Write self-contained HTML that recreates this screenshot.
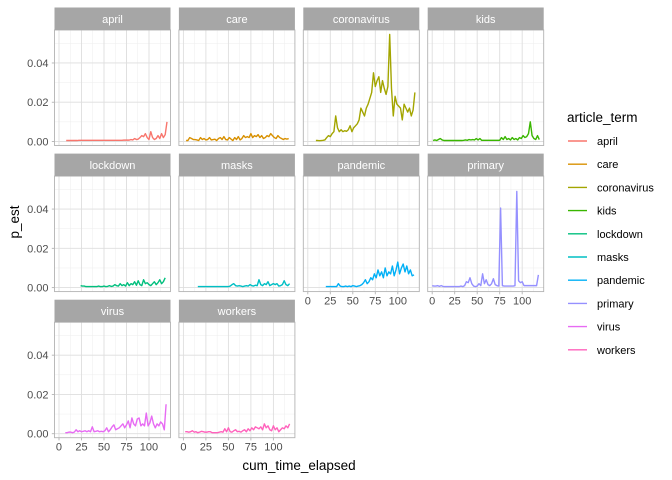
<!DOCTYPE html>
<html><head><meta charset="utf-8"><style>
html,body{margin:0;padding:0;background:#fff;}
svg{display:block;font-family:"Liberation Sans",Arial,sans-serif;}
</style></head><body>
<svg id="chart" width="672" height="480" viewBox="0 0 672 480" xmlns="http://www.w3.org/2000/svg"></svg>
<script>
const terms = ["april","care","coronavirus","kids","lockdown","masks","pandemic","primary","virus","workers"];
const colors = ["#F8766D","#D89000","#A3A500","#39B600","#00BF7D","#00BFC4","#00B0F6","#9590FF","#E76BF3","#FF62BC"];
const xTicks = [0,25,50,75,100];
const yTicks = [0,0.02,0.04];
const yTickLabels = ["0.00","0.02","0.04"];
const xStart = [8,3,9,1,24,16,20,0,7,2];
const xStep = 2;
const april = [0.0005,0.0005,0.0005,0.0005,0.0005,0.0005,0.0005,0.0006,0.0006,0.0006,0.0006,0.0006,0.0006,0.0006,0.0006,0.0006,0.0006,0.0006,0.0006,0.0006,0.0006,0.0006,0.0006,0.0006,0.0006,0.0006,0.0006,0.0006,0.0006,0.0006,0.0006,0.0006,0.0007,0.0007,0.0007,0.0007,0.001,0.0008,0.0015,0.001,0.0012,0.002,0.003,0.0025,0.004,0.002,0.001,0.005,0.002,0.001,0.0015,0.003,0.0015,0.004,0.002,0.0035,0.010];
const care = [0.0005,0.0005,0.002,0.0015,0.001,0.001,0.0008,0.0005,0.002,0.001,0.0015,0.0008,0.001,0.002,0.0008,0.001,0.0012,0.0005,0.0015,0.002,0.001,0.0025,0.001,0.0008,0.002,0.0012,0.0005,0.002,0.001,0.0025,0.0008,0.0015,0.003,0.002,0.0025,0.002,0.004,0.002,0.003,0.0025,0.0035,0.002,0.003,0.0015,0.002,0.003,0.0025,0.004,0.003,0.002,0.0015,0.003,0.002,0.0015,0.001,0.0015,0.0012,0.0015];
const coronavirus = [0.0005,0.0005,0.0004,0.0005,0.0006,0.0008,0.002,0.003,0.0025,0.004,0.005,0.013,0.007,0.005,0.006,0.005,0.0055,0.0052,0.006,0.008,0.005,0.007,0.008,0.009,0.011,0.017,0.015,0.013,0.017,0.019,0.022,0.025,0.035,0.028,0.031,0.033,0.025,0.031,0.027,0.024,0.028,0.0545,0.027,0.013,0.023,0.019,0.018,0.017,0.011,0.019,0.017,0.015,0.017,0.013,0.016,0.025];
const kids = [0.0005,0.0008,0.0005,0.001,0.0015,0.0008,0.0005,0.0005,0.0005,0.0005,0.0005,0.0005,0.0005,0.0005,0.0005,0.0005,0.0005,0.0006,0.0008,0.0006,0.001,0.0008,0.001,0.0008,0.0015,0.0008,0.0015,0.0006,0.0006,0.0006,0.0006,0.0006,0.0006,0.0006,0.0006,0.0006,0.0006,0.0006,0.002,0.001,0.0025,0.001,0.0015,0.0008,0.002,0.001,0.0015,0.0008,0.002,0.0015,0.003,0.002,0.0025,0.004,0.010,0.003,0.0015,0.001,0.003,0.001];
const lockdown = [0.001,0.0008,0.0008,0.0005,0.0005,0.0005,0.0005,0.0005,0.0005,0.0005,0.0008,0.0005,0.0005,0.0008,0.0005,0.0006,0.001,0.0006,0.0008,0.0015,0.001,0.0008,0.002,0.001,0.0015,0.0008,0.0025,0.001,0.002,0.0015,0.003,0.0012,0.0035,0.0015,0.001,0.004,0.002,0.0025,0.0015,0.001,0.002,0.003,0.0015,0.0025,0.004,0.002,0.003,0.005];
const masks = [0.0005,0.0005,0.0005,0.0005,0.0005,0.0005,0.0005,0.0005,0.0005,0.0005,0.0005,0.0005,0.0005,0.0005,0.0005,0.0005,0.0005,0.0005,0.0008,0.0015,0.002,0.001,0.0008,0.001,0.0008,0.0005,0.0008,0.001,0.0008,0.0015,0.001,0.0008,0.0012,0.001,0.004,0.0015,0.001,0.002,0.0015,0.003,0.001,0.0015,0.002,0.0015,0.002,0.0008,0.001,0.0015,0.0035,0.0015,0.001,0.002];
const pandemic = [0.0005,0.0005,0.0005,0.0005,0.0005,0.0005,0.0005,0.002,0.0008,0.0005,0.0005,0.0008,0.0005,0.0008,0.0005,0.001,0.0008,0.0005,0.0008,0.001,0.0015,0.0025,0.004,0.002,0.003,0.005,0.004,0.007,0.005,0.009,0.006,0.008,0.005,0.01,0.006,0.008,0.007,0.011,0.006,0.009,0.013,0.007,0.01,0.012,0.008,0.011,0.007,0.009,0.006,0.0065];
const primary = [0.001,0.0008,0.0008,0.001,0.0006,0.001,0.0006,0.0005,0.0005,0.0005,0.0005,0.0005,0.0005,0.0005,0.0005,0.0005,0.0008,0.0005,0.001,0.003,0.0025,0.005,0.002,0.0008,0.0005,0.0008,0.002,0.001,0.007,0.002,0.004,0.0015,0.001,0.002,0.0045,0.0015,0.001,0.0008,0.0405,0.001,0.0008,0.0008,0.0008,0.0008,0.0008,0.0008,0.001,0.049,0.0035,0.0025,0.003,0.001,0.001,0.001,0.001,0.001,0.001,0.001,0.001,0.0065];
const virus = [0.0005,0.0005,0.0008,0.0008,0.0005,0.0008,0.002,0.001,0.0015,0.001,0.0012,0.0015,0.001,0.0015,0.001,0.0035,0.001,0.0012,0.0015,0.001,0.0012,0.001,0.0015,0.003,0.001,0.002,0.0035,0.0045,0.002,0.0025,0.003,0.004,0.005,0.003,0.0045,0.0065,0.003,0.008,0.005,0.004,0.0075,0.008,0.004,0.005,0.004,0.0105,0.004,0.0055,0.009,0.005,0.003,0.005,0.004,0.006,0.005,0.002,0.015];
const workers = [0.001,0.001,0.0008,0.001,0.0015,0.0008,0.001,0.0005,0.0008,0.0012,0.001,0.0008,0.0008,0.001,0.001,0.0005,0.0005,0.0005,0.0005,0.0008,0.001,0.0008,0.0025,0.001,0.003,0.001,0.0008,0.0015,0.002,0.001,0.0012,0.0008,0.0015,0.002,0.001,0.0025,0.0015,0.003,0.002,0.0035,0.003,0.0025,0.0035,0.002,0.005,0.003,0.004,0.002,0.0015,0.004,0.002,0.003,0.001,0.002,0.003,0.0025,0.004,0.003,0.005];
const seriesVals = [april,care,coronavirus,kids,lockdown,masks,pandemic,primary,virus,workers];

const NS = "http://www.w3.org/2000/svg";
const svg = document.getElementById("chart");
function mk(tag, attrs, parent){ const e=document.createElementNS(NS,tag); for(const k in attrs) e.setAttribute(k,attrs[k]); (parent||svg).appendChild(e); return e; }

const panelW = 116, panelH = 115.5, colPitch = 124.4, rowPitch = 146.1;
const left0 = 54.5, stripTop0 = 7.5, stripH = 22.5;
const xMin = -5, xMax = 123.9, yMin = -0.00204, yMax = 0.0568;
function px(c, v){ return left0 + c*colPitch + (v - xMin)/(xMax - xMin)*panelW; }
function py(r, v){ const top = stripTop0 + r*rowPitch + stripH; return top + (yMax - v)/(yMax - yMin)*panelH; }

terms.forEach((term, i) => {
  const c = i % 4, r = Math.floor(i/4);
  const L = left0 + c*colPitch, T = stripTop0 + r*rowPitch + stripH;
  const g = mk("g", {});
  
  
  mk("rect", {x:L, y:T, width:panelW, height:panelH, fill:"#fff"}, g);
  [12.5,37.5,62.5,87.5,112.5].forEach(v => mk("line",{x1:px(c,v),x2:px(c,v),y1:T,y2:T+panelH,stroke:"#EDEDED","stroke-width":0.5},g));
  [0.01,0.03,0.05].forEach(v => mk("line",{x1:L,x2:L+panelW,y1:py(r,v),y2:py(r,v),stroke:"#EDEDED","stroke-width":0.5},g));
  xTicks.forEach(v => mk("line",{x1:px(c,v),x2:px(c,v),y1:T,y2:T+panelH,stroke:"#DEDEDE","stroke-width":0.9},g));
  yTicks.forEach(v => mk("line",{x1:L,x2:L+panelW,y1:py(r,v),y2:py(r,v),stroke:"#DEDEDE","stroke-width":0.9},g));
  const vals = seriesVals[i];
  const pts = vals.map((v,k) => px(c, xStart[i] + k*xStep).toFixed(2) + "," + py(r, v).toFixed(2)).join(" ");
  const line = mk("polyline", {points:pts, fill:"none", stroke:colors[i], "stroke-width":1.4, "stroke-linejoin":"round"}, g);
  
  
  mk("rect", {x:L, y:T, width:panelW, height:panelH, fill:"none", stroke:"#B3B3B3", "stroke-width":0.9}, g);
  const strip = mk("rect", {x:L, y:T-stripH, width:panelW, height:stripH, fill:"#A6A6A6"}, g);
  
  
  const st = mk("text", {x:L+panelW/2, y:T-stripH/2+4, "text-anchor":"middle", "font-size":"11", fill:"#fff"}, g);
  st.textContent = term;
  
  
  if (c === 0) {
    yTicks.forEach((v,k) => {
      mk("line",{x1:L-2.7,x2:L,y1:py(r,v),y2:py(r,v),stroke:"#B3B3B3","stroke-width":0.9},g);
      const t = mk("text",{x:L-6,y:py(r,v)+4,"text-anchor":"end","font-size":"11",fill:"#4D4D4D"},g);
      t.textContent = yTickLabels[k];
      
      
    });
  }
  const bottom = (r === 2) || (r === 1 && c >= 2);
  if (bottom) {
    xTicks.forEach(v => {
      mk("line",{x1:px(c,v),x2:px(c,v),y1:T+panelH,y2:T+panelH+2.7,stroke:"#B3B3B3","stroke-width":0.9},g);
      const t = mk("text",{x:px(c,v),y:T+panelH+13,"text-anchor":"middle","font-size":"11",fill:"#4D4D4D"},g);
      t.textContent = String(v);
      
      
    });
  }
});

const xt = mk("text",{x:299,y:470,"text-anchor":"middle","font-size":"13.5",fill:"#000"});
xt.textContent = "cum_time_elapsed";


const yt = mk("text",{x:0,y:0,"text-anchor":"middle","font-size":"13.5",fill:"#000",transform:"translate(19,222) rotate(-90)"});
yt.textContent = "p_est";



const lg = mk("g",{});


const lt = mk("text",{x:567,y:122,"font-size":"13.5",fill:"#000"},lg);
lt.textContent = "article_term";


terms.forEach((term,i) => {
  const y = 141 + i*23.2;
  const e = mk("g",{},lg);
  
  
  mk("line",{x1:568,x2:587,y1:y,y2:y,stroke:colors[i],"stroke-width":1.4},e);
  const t = mk("text",{x:597,y:y+4,"font-size":"11",fill:"#000"},e);
  t.textContent = term;
});
</script>
</body></html>
